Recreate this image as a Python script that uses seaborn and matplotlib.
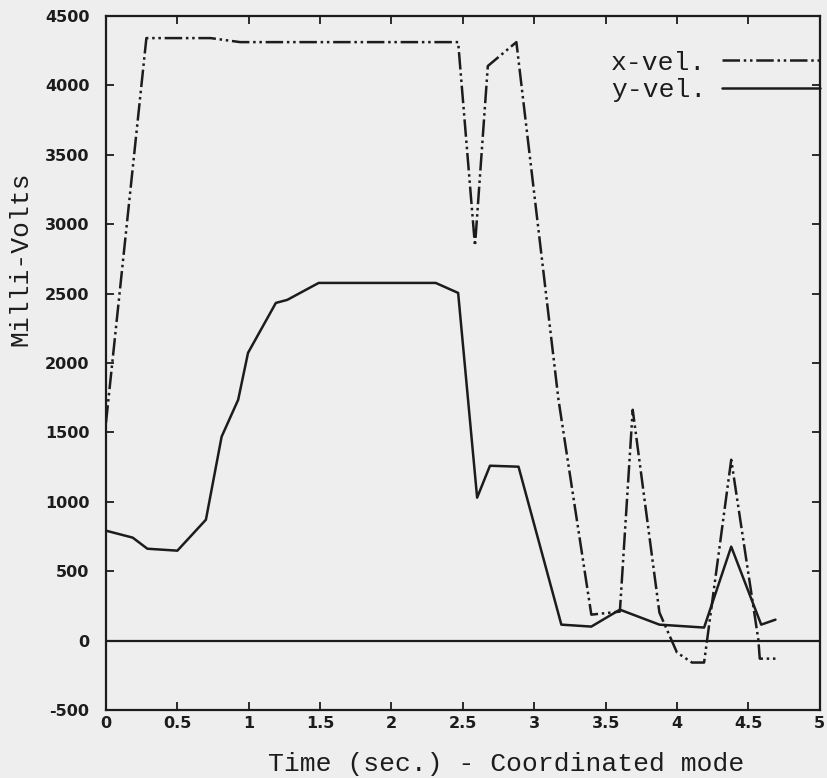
import matplotlib
matplotlib.use("Agg")
import matplotlib.pyplot as plt
import pandas as pd
import seaborn as sns

# values
x_time = [0, 0.283, 0.733, 0.94, 2.467, 2.585, 2.675, 2.875, 3.17, 3.40, 3.60,
          3.69, 3.877, 4.00, 4.105, 4.19, 4.38, 4.57, 4.58, 4.69]
x_vel = [1570, 4341, 4341, 4312, 4312, 2844, 4140, 4312, 1735, 187, 209,
         1663, 202, -86, -158, -158, 1303, 7, -130, -130]

y_time = [0, 0.187, 0.29, 0.50, 0.70, 0.81, 0.926, 0.995, 1.19, 1.27, 1.49,
          2.31, 2.467, 2.60, 2.69, 2.89, 3.19, 3.40, 3.60, 3.877, 4.19, 4.38,
          4.59, 4.69]
y_vel = [792, 742, 662, 648, 871, 1469, 1735, 2073, 2433, 2455, 2577,
         2577, 2505, 1030, 1260, 1253, 115, 101, 223, 115, 94, 677,
         115, 151]

x_ticks = [0, 0.5, 1, 1.5, 2, 2.5, 3, 3.5, 4, 4.5, 5]
x_ticklabels = ["0", "0.5", "1", "1.5", "2", "2.5", "3", "3.5", "4", "4.5", "5"]
y_ticks = [-500, 0, 500, 1000, 1500, 2000, 2500, 3000, 3500, 4000, 4500]

df = pd.concat([
    pd.DataFrame({"t": x_time, "mv": x_vel, "series": "x-vel."}),
    pd.DataFrame({"t": y_time, "mv": y_vel, "series": "y-vel."}),
], ignore_index=True)

paper = "#eeeeee"
ink = "#1c1c1c"

sns.set_style("ticks")
plt.rcParams["font.family"] = ["Liberation Mono", "DejaVu Sans Mono"]
plt.rcParams["axes.unicode_minus"] = False

fig = plt.figure(figsize=(8.28, 7.78), dpi=100, facecolor=paper)
ax = fig.add_axes([0.128, 0.0874, 0.862, 0.892])
ax.set_facecolor(paper)

sns.lineplot(data=df, x="t", y="mv", style="series", color=ink,
             estimator=None, sort=False, linewidth=1.8,
             dashes={"x-vel.": (7, 1.5, 1, 1.5, 1, 1.5), "y-vel.": ""},
             ax=ax)

ax.axhline(0, color=ink, linewidth=1.6, zorder=1)

ax.set_xlim(0, 5)
ax.set_ylim(-500, 4500)
ax.set_xticks(x_ticks)
ax.set_xticklabels(x_ticklabels)
ax.set_yticks(y_ticks)
ax.tick_params(direction="in", length=6, width=1.3, colors=ink,
               top=True, right=True)
ax.tick_params(axis="y", pad=12)
ax.tick_params(axis="x", pad=4)
for lab in ax.get_xticklabels() + ax.get_yticklabels():
    lab.set_family("DejaVu Sans")
    lab.set_fontweight("bold")
    lab.set_fontsize(11.5)
for sp in ax.spines.values():
    sp.set_linewidth(1.6)
    sp.set_color(ink)

ax.set_xlabel("Time (sec.) - Coordinated mode", fontsize=19, color=ink)
ax.xaxis.set_label_coords(0.56, -0.06)
ax.set_ylabel("Milli-Volts", fontsize=19, color=ink)
ax.yaxis.set_label_coords(-0.103, 0.65)

ax.legend(loc="upper right", bbox_to_anchor=(1.0, 0.95), frameon=False,
          markerfirst=False, fontsize=19, handlelength=3.7,
          handletextpad=0.6, labelspacing=0.12, borderpad=0,
          borderaxespad=0, labelcolor=ink)

fig.savefig("out.png", dpi=100, facecolor=paper)
